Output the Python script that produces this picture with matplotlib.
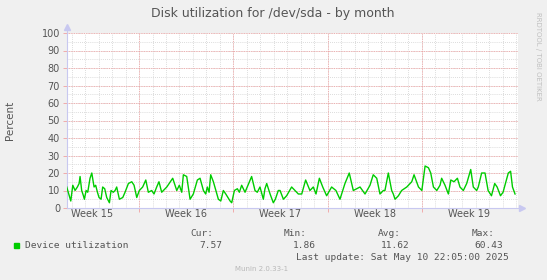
import matplotlib.pyplot as plt
import numpy as np

# days relative to Monday of week 16 (Apr 14), utilization in percent
days = [-5.37, -5.07, -4.92, -4.75, -4.58, -4.45, -4.38, -4.26, -4.13, -4.06,
        -3.93, -3.81, -3.64, -3.51, -3.34, -3.22, -3.09, -2.97, -2.82, -2.70,
        -2.55, -2.40, -2.20, -2.08, -1.91, -1.78, -1.66, -1.46, -1.21, -1.04,
        -0.79, -0.54, -0.37, -0.17, 0.02, 0.27, 0.50, 0.69, 0.94, 1.11,
        1.31, 1.48, 1.68, 2.06, 2.50, 2.80, 2.99, 3.17, 3.29, 3.54,
        3.79, 4.03, 4.33, 4.53, 4.78, 4.95, 5.07, 5.20, 5.32, 5.52,
        5.89, 6.07, 6.26, 6.44, 6.76, 6.88, 7.08, 7.30, 7.45, 7.62,
        7.87, 8.36, 8.61, 8.78, 8.98, 9.23, 9.35, 9.48, 9.73, 9.97,
        10.12, 10.34, 10.47, 10.72, 10.96, 11.33, 11.58, 11.83, 12.08, 12.37,
        12.69, 12.94, 13.14, 13.39, 13.64, 13.93, 14.30, 14.62, 14.92, 15.29,
        15.61, 15.91, 16.16, 16.41, 16.78, 17.15, 17.39, 17.65, 17.89, 18.14,
        18.26, 18.51, 18.76, 18.88, 19.01, 19.26, 19.50, 19.88, 20.25, 20.42,
        20.75, 21.00, 21.24, 21.49, 21.66, 21.86, 22.11, 22.35, 22.47, 22.72,
        22.97, 23.15, 23.39, 23.64, 23.83, 24.08, 24.33, 24.63, 24.82, 25.07,
        25.19, 25.44, 25.69, 25.92, 26.17, 26.41, 26.59, 26.84, 27.03, 27.42,
        27.59, 27.73, 27.92]
util = [12, 4, 13, 10, 12, 14, 18, 10, 7, 5,
        10, 9, 17, 20, 12, 13, 9, 6, 5, 12,
        11, 6, 3, 10, 9, 10, 12, 5, 6, 9,
        14, 15, 13, 6, 10, 12, 16, 9, 10, 8,
        12, 15, 9, 12, 17, 10, 13, 9, 19, 18,
        5, 8, 16, 17, 10, 8, 12, 9, 19, 15,
        5, 4, 10, 8, 4, 3, 10, 11, 9, 13,
        9, 18, 10, 9, 12, 5, 11, 14, 8, 3,
        5, 10, 10, 5, 7, 12, 10, 8, 8, 16,
        10, 12, 8, 17, 12, 7, 12, 10, 5, 14,
        20, 10, 11, 12, 8, 13, 19, 17, 8, 10,
        10, 20, 10, 8, 5, 7, 10, 12, 15, 19,
        12, 10, 24, 23, 20, 12, 10, 13, 17, 13,
        8, 16, 15, 17, 12, 10, 14, 22, 12, 10,
        12, 20, 20, 10, 7, 14, 12, 7, 9, 20,
        21, 12, 8]

week_starts = [0, 7, 14, 21]
week_centers = [-3.5, 3.5, 10.5, 17.5, 24.5]
week_labels = ['Week 15', 'Week 16', 'Week 17', 'Week 18', 'Week 19']

stats_head = ['Cur:', 'Min:', 'Avg:', 'Max:']
stats_vals = ['7.57', '1.86', '11.62', '60.43']

txt = '#555555'
axis_col = '#c8c8f0'

fig = plt.figure(figsize=(5.47, 2.80), dpi=100, facecolor='#f0f0f0')
ax = fig.add_axes([67 / 547, 72 / 280, 451 / 547, 175 / 280])
ax.set_facecolor('white')

ax.set_xlim(-5.35, 28.14)
ax.set_ylim(0, 100)

# grid: minor gray, major red
for y in np.arange(5, 101, 5):
    ax.axhline(y, color='#d0d0d0', lw=0.6, ls=(0, (1, 1.5)), zorder=1)
for d in np.arange(-5, 29, 1):
    ax.axvline(d, color='#d0d0d0', lw=0.6, ls=(0, (1, 1.5)), zorder=1)
for y in np.arange(10, 101, 10):
    ax.axhline(y, color='#f0a0a0', lw=0.6, ls=(0, (1, 1)), zorder=1.5)
for d in week_starts:
    ax.axvline(d, color='#f0a0a0', lw=0.6, ls=(0, (1, 1)), zorder=1.5)

ax.plot(days, util, color='#00cc00', lw=1.0, zorder=3)

for s in ['top', 'right']:
    ax.spines[s].set_visible(False)
for s in ['left', 'bottom']:
    ax.spines[s].set_color(axis_col)
    ax.spines[s].set_linewidth(0.8)

ax.set_yticks(np.arange(0, 101, 10))
ax.tick_params(axis='y', length=3, width=0.6, color='#f0a0a0', labelsize=7,
               labelcolor=txt, pad=2)
ax.set_xticks(week_starts)
ax.set_xticklabels([])
ax.set_xticks(week_centers, minor=True)
ax.set_xticklabels(week_labels, minor=True)
ax.tick_params(axis='x', which='major', length=3, width=0.6, color='#f0a0a0')
ax.tick_params(axis='x', which='minor', length=0, labelsize=7,
               labelcolor=txt, pad=1)

# arrow heads on the axes
ax.plot([0], [1.035], marker='^', ms=4, color=axis_col, transform=ax.transAxes,
        clip_on=False)
ax.plot([1.008], [0], marker='>', ms=4, color=axis_col, transform=ax.transAxes,
        clip_on=False)
ax.plot([0, 0], [1.0, 1.03], color=axis_col, lw=0.8, transform=ax.transAxes,
        clip_on=False)

ax.set_ylabel('Percent', fontsize=7.5, color=txt, labelpad=19)

fig.text(273 / 547, 1 - 14 / 280, 'Disk utilization for /dev/sda - by month',
         ha='center', va='center', fontsize=9, color=txt)
fig.text(538 / 547, 1 - 56 / 280, 'RRDTOOL / TOBI OETIKER', rotation=270,
         ha='center', va='center', fontsize=5, color='#c0c0c0')

# legend
fig.patches.append(plt.Rectangle((14 / 547, 1 - 248 / 280), 5 / 547, 5 / 280,
                                 transform=fig.transFigure, color='#00cc00'))
mono = dict(family='DejaVu Sans Mono', fontsize=6.8, color=txt, va='center')
fig.text(25 / 547, 1 - 245.5 / 280, 'Device utilization', ha='left', **mono)
for i, (h, v) in enumerate(zip(stats_head, stats_vals)):
    xr = (213 + 94 * i) / 547
    fig.text(xr, 1 - 234 / 280, h, ha='right', **mono)
    fig.text((222 + 94 * i) / 547 if i < 2 else (410 + 93 * (i - 2)) / 547,
             1 - 245.5 / 280, v, ha='right', **mono)
fig.text(509 / 547, 1 - 257.5 / 280, 'Last update: Sat May 10 22:05:00 2025',
         ha='right', **mono)
fig.text(262 / 547, 1 - 269 / 280, 'Munin 2.0.33-1', ha='center', va='center',
         fontsize=5, color='#b8b8b8')

fig.savefig('out.png', dpi=100, facecolor=fig.get_facecolor())
